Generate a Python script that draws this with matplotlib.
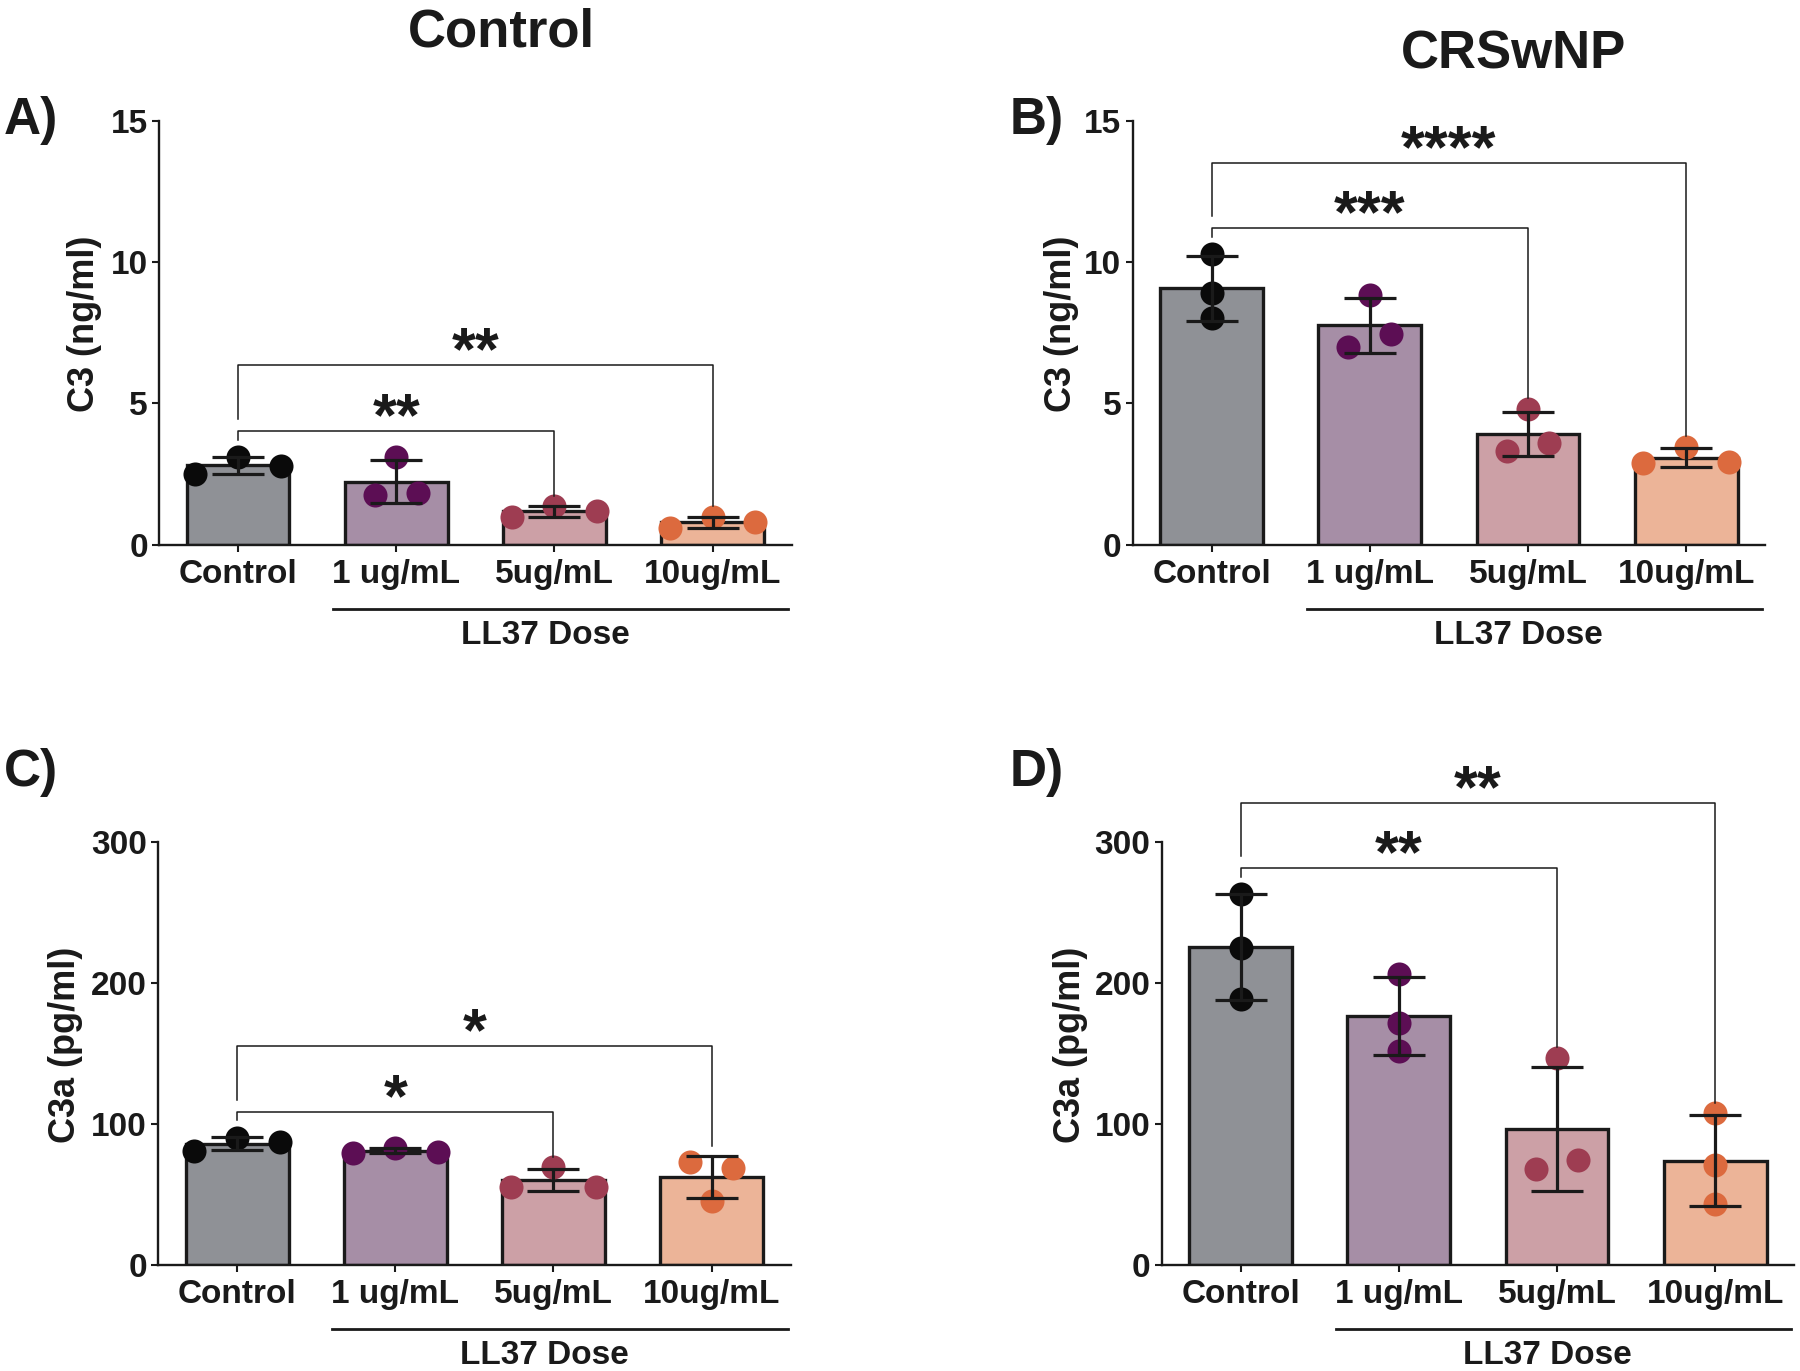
import numpy as np
import matplotlib
matplotlib.use("Agg")
import matplotlib.pyplot as plt
import matplotlib.transforms as mtransforms

plt.rcParams['font.family'] = ['Liberation Sans', 'DejaVu Sans']
plt.rcParams['font.weight'] = 'bold'

# groups on the x axis
groups = ["Control", "1 ug/mL", "5ug/mL", "10ug/mL"]

# replicate values (listed in the order drawn, left to right)
c3_control = [[2.51, 3.12, 2.80], [1.77, 3.12, 1.83], [1.00, 1.36, 1.19], [0.60, 0.98, 0.82]]
c3_crswnp = [[10.29, 8.90, 8.01], [7.00, 8.85, 7.44], [3.33, 4.81, 3.61], [2.89, 3.46, 2.92]]
c3a_control = [[81.0, 90.0, 87.4], [79.6, 83.0, 80.4], [55.6, 69.3, 55.6], [73.2, 45.5, 68.5]]
c3a_crswnp = [[263.4, 224.6, 188.8], [206.5, 171.9, 151.9], [146.9, 68.2, 74.3], [107.6, 71.0, 43.2]]

# significance: (group a, group b, label)
sig_a = [(0, 2, "**"), (0, 3, "**")]
sig_b = [(0, 2, "***"), (0, 3, "****")]
sig_c = [(0, 2, "*"), (0, 3, "*")]
sig_d = [(0, 2, "**"), (0, 3, "**")]

c3_ticks = [0, 5, 10, 15]
c3a_ticks = [0, 100, 200, 300]

bar_colors = ["#8f9196", "#a68ea6", "#cca0a6", "#ecb498"]
dot_colors = ["#0a0a0a", "#5c0e54", "#9e3d52", "#dc6a3e"]
INK = "#1a1a1a"

fig = plt.figure(figsize=(18, 13.71), dpi=100)


def dot_positions(vals, center, ymax, step=0.27):
    # put points that sit at about the same height side by side, like Prism does
    order = sorted(range(len(vals)), key=lambda i: -vals[i])
    rows = []
    for i in order:
        if rows and vals[rows[-1][0]] - vals[i] < 0.05 * ymax:
            rows[-1].append(i)
        else:
            rows.append([i])
    xs = [center] * len(vals)
    for row in rows:
        row = sorted(row)
        k = len(row)
        for j, i in enumerate(row):
            xs[i] = center + (j - (k - 1) / 2) * step
    return xs


def panel(rect, data, sigs, ticks, ylabel, ylab_x):
    ax = fig.add_axes(rect)
    ymax = ticks[-1]
    x = np.arange(len(groups))
    means = [np.mean(v) for v in data]
    sds = [np.std(v, ddof=1) for v in data]

    ax.bar(x, means, width=0.65, color=bar_colors, edgecolor=INK, linewidth=2.4, zorder=2)
    for g, vals in enumerate(data):
        xs = dot_positions(vals, g, ymax)
        ax.scatter(xs, vals, s=300, color=dot_colors[g], linewidths=0, zorder=3, clip_on=False)
    ax.errorbar(x, means, yerr=sds, fmt='none', ecolor=INK, elinewidth=2.3,
                capsize=19, capthick=2.3, zorder=4)

    # significance brackets
    tops = [max(max(v), m + s) for v, m, s in zip(data, means, sds)]
    prev_y = None
    for a, b, lab in sigs:
        if prev_y is None:
            y = max(tops[a:b]) + 0.06 * ymax
            left_bottom = min(tops[a] + 0.04 * ymax, y - 0.01 * ymax)
        else:
            y = prev_y + 0.155 * ymax
            left_bottom = prev_y + 0.028 * ymax
        right_bottom = tops[b] + 0.025 * ymax
        ax.plot([a, a, b, b], [left_bottom, y, y, right_bottom], color=INK, lw=1.1,
                clip_on=False, zorder=5)
        ax.annotate(lab, xy=((a + b) / 2, y), xytext=(0, -3), textcoords='offset points',
                    ha='center', va='baseline', fontsize=44, fontweight='bold', color=INK,
                    annotation_clip=False)
        prev_y = y

    ax.set_xlim(-0.5, 3.5)
    ax.set_ylim(0, ymax)
    ax.set_yticks(ticks)
    ax.set_xticks(x)
    ax.set_xticklabels(groups)
    for s in ["top", "right"]:
        ax.spines[s].set_visible(False)
    for s in ["left", "bottom"]:
        ax.spines[s].set_linewidth(1.7)
        ax.spines[s].set_color(INK)
    ax.tick_params(axis='y', length=5, width=1.5, pad=3, labelsize=24, colors=INK)
    ax.tick_params(axis='x', length=5, width=1.5, pad=5, labelsize=24, colors=INK)
    ax.set_facecolor('none')

    ax.text(ylab_x, 0.52, ylabel, transform=ax.transAxes, rotation=90,
            ha='center', va='center', fontsize=26, fontweight='bold', color=INK)

    # "LL37 Dose" underline below the treated groups
    trans = mtransforms.blended_transform_factory(ax.transData, ax.transAxes)
    ax.plot([0.6, 3.48], [-0.152, -0.152], color=INK, lw=2.0, transform=trans, clip_on=False)
    ax.text(1.94, -0.213, "LL37 Dose", transform=trans, ha='center',
            va='center', fontsize=24, fontweight='bold', color=INK)
    return ax


panel([0.0883, 0.6025, 0.3515, 0.3096], c3_control, sig_a, c3_ticks, "C3 (ng/ml)", -0.118)
panel([0.6292, 0.6025, 0.3515, 0.3096], c3_crswnp, sig_b, c3_ticks, "C3 (ng/ml)", -0.112)
panel([0.0878, 0.0773, 0.3515, 0.3085], c3a_control, sig_c, c3a_ticks, "C3a (pg/ml)", -0.146)
panel([0.6453, 0.0773, 0.3515, 0.3085], c3a_crswnp, sig_d, c3a_ticks, "C3a (pg/ml)", -0.144)

# column titles and panel letters
fig.text(0.2787, 0.9664, "Control", ha='center', va='baseline', fontsize=38, fontweight='bold', color=INK)
fig.text(0.8406, 0.9500, "CRSwNP", ha='center', va='baseline', fontsize=38, fontweight='bold', color=INK)
for letter, lx, ly in [("A)", 0.002, 0.9023), ("B)", 0.561, 0.9023),
                       ("C)", 0.002, 0.4267), ("D)", 0.561, 0.4267)]:
    fig.text(lx, ly, letter, ha='left', va='baseline', fontsize=37, fontweight='bold', color=INK)

fig.savefig("out.png", dpi=100, facecolor='white')
